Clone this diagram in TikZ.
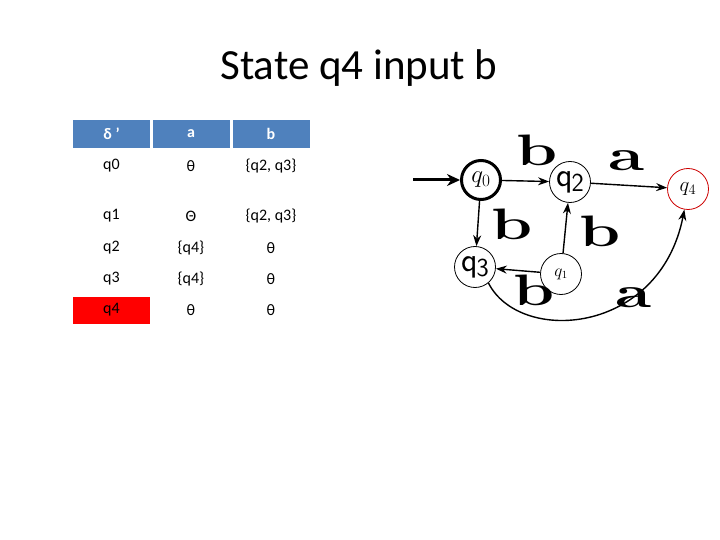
\documentclass[tikz,border=0pt]{standalone}
\usepackage{fontspec}
\setmainfont{Carlito}
\newfontfamily\lm{Latin Modern Roman}
\usetikzlibrary{arrows.meta}
\begin{document}
\begin{tikzpicture}[x=1pt,y=-1pt,
 hdr/.style={fill={rgb,255:red,79;green,129;blue,189},text=white,minimum width=77pt,minimum height=28pt,inner sep=0pt,font=\fontsize{16}{18}\selectfont\bfseries},
 cell/.style={minimum width=77pt,inner sep=0pt,font=\fontsize{16}{18}\selectfont},
 st/.style={circle,draw,minimum size=41pt,inner sep=0pt,line width=0.8pt},
 lbl/.style={font=\lm\fontsize{44}{44}\selectfont\bfseries,xscale=1.5},
 ed/.style={-{Stealth[length=11pt,width=8pt]},line width=1.4pt}]
\useasboundingbox (0,0) rectangle (720,540);
\node[font=\fontsize{43}{46}\selectfont] (title) at (359,68) {State q4 input b};
\node[hdr] (h0) at (111.5,134) {δ '};
\node[hdr] (h1) at (191,134) {a};
\node[hdr] (h2) at (271,134) {b};
\node[cell] (r0a) at (111.5,166) {q0};
\node[cell] (r0b) at (191,166) {θ};
\node[cell] (r0c) at (271,166) {\{q2, q3\}};
\node[cell] (r1a) at (111.5,216) {q1};
\node[cell] (r1b) at (191,216) {Θ};
\node[cell] (r1c) at (271,216) {\{q2, q3\}};
\node[cell] (r2a) at (111.5,248) {q2};
\node[cell] (r2b) at (191,248) {\{q4\}};
\node[cell] (r2c) at (271,248) {θ};
\node[cell] (r3a) at (111.5,279) {q3};
\node[cell] (r3b) at (191,279) {\{q4\}};
\node[cell] (r3c) at (271,279) {θ};
\node[cell,fill=red,minimum height=27pt] (r4a) at (111.5,310) {q4};
\node[cell] (r4b) at (191,310) {θ};
\node[cell] (r4c) at (271,310) {θ};
\node[st,line width=3pt,minimum size=39pt] (q0) at (481,180) {\fontsize{26}{26}\selectfont$q_0$};
\node[st] (q2) at (570,182) {\fontsize{34}{34}\selectfont\sffamily q\kern-1pt\raisebox{-5pt}{\fontsize{26}{26}\selectfont 2}};
\node[st,draw=red!80!black] (q4) at (688,189) {\fontsize{20}{20}\selectfont$q_4$};
\node[st] (q3) at (475,267) {\fontsize{34}{34}\selectfont\sffamily q\kern-1pt\raisebox{-5pt}{\fontsize{26}{26}\selectfont 3}};
\node[st] (q1) at (561,274) {\fontsize{16}{16}\selectfont$q_1$};
\coordinate (start) at (413,180);
\draw[-{Stealth[length=13pt,width=12pt]},line width=3pt] (start) -- (q0);
\draw[ed] (q0) -- (q2);
\draw[ed] (q2) -- (q4);
\draw[ed] (q0) -- (q3);
\draw[ed] (q1) -- (q2);
\draw[ed] (q1) -- (q3);
\draw[ed] (q3.-50) .. controls (520,345) and (660,335) .. (q4.-100);
\node[lbl] (lb1) at (537,150) {b};
\node[lbl] (la1) at (627,161) {a};
\node[lbl] (lb2) at (512,224) {b};
\node[lbl] (lb3) at (600,231) {b};
\node[lbl] (lb4) at (534,290) {b};
\node[lbl] (la2) at (634,298) {a};
\end{tikzpicture}
\end{document}
